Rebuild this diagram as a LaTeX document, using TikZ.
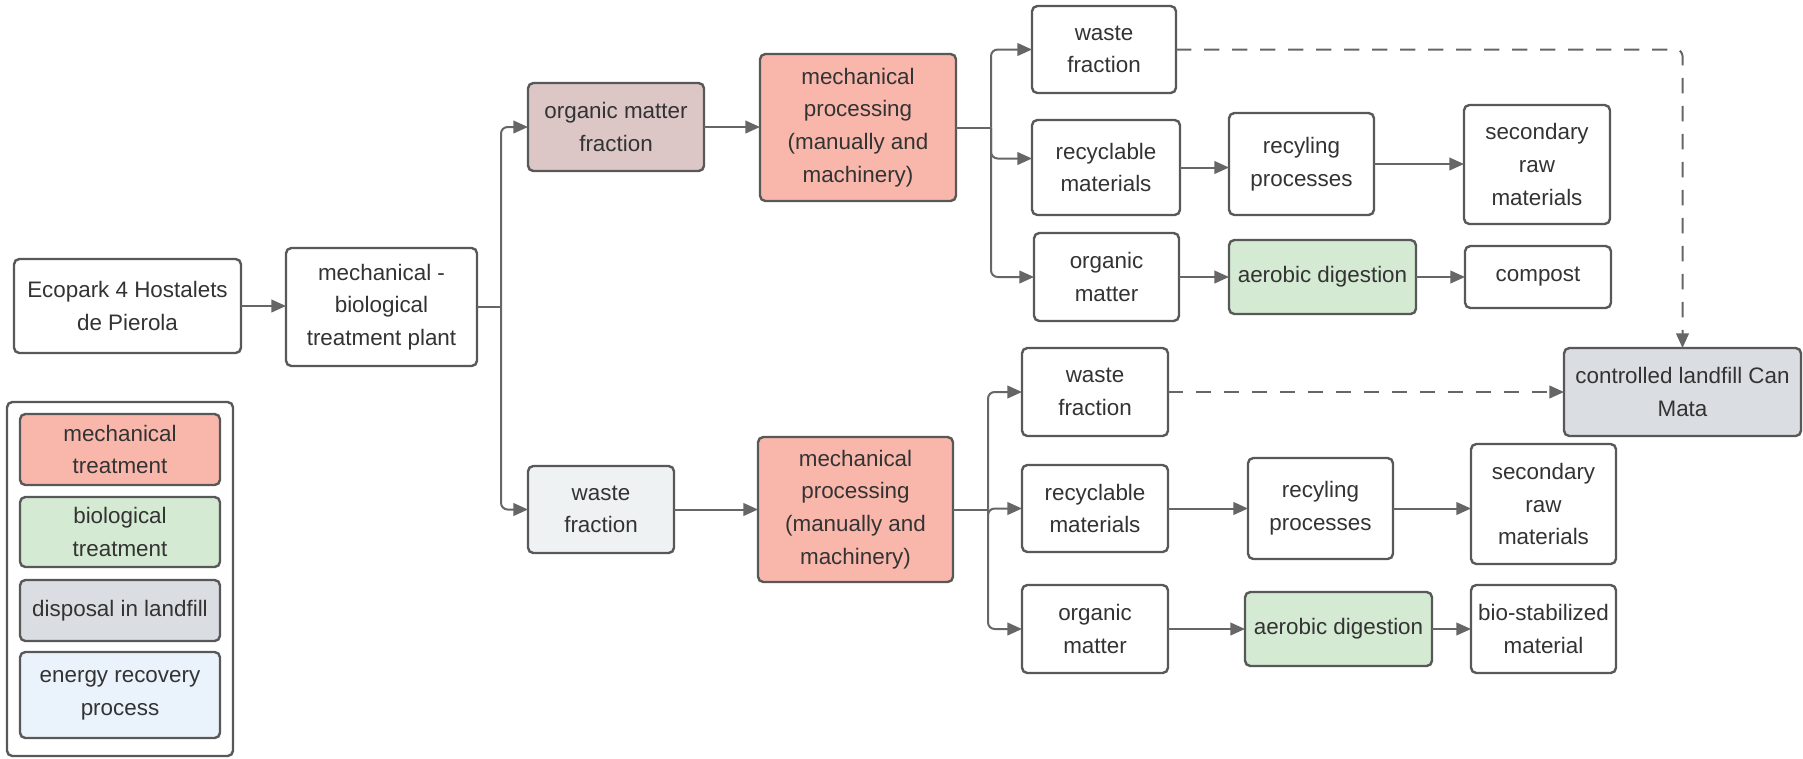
\documentclass[tikz,border=0pt]{standalone}
\usepackage{fontspec}
\setmainfont{Liberation Sans}
\usetikzlibrary{arrows.meta,calc}

\definecolor{edge}{HTML}{585858}
\definecolor{wire}{HTML}{666666}
\definecolor{txt}{HTML}{333333}
\definecolor{mechfill}{HTML}{F9B7AC}
\definecolor{orgfill}{HTML}{DCC6C6}
\definecolor{biofill}{HTML}{D4EAD3}
\definecolor{dumpfill}{HTML}{DADDE1}
\definecolor{wastefill}{HTML}{EFF2F3}
\definecolor{energyfill}{HTML}{EAF2FC}

% box given by its corners (x1,y1)-(x2,y2) in pixel units
\newcommand\boxat[7]{\node[#6, minimum width={(#4-#2)*0.75pt}, minimum height={(#5-#3)*0.75pt}] (#1) at ({(#2+#4)/2},{(#3+#5)/2}) {#7};}

\tikzset{
  box/.style={draw=edge, line width=1.8pt, rounded corners=4pt, fill=white,
    align=center, inner sep=0pt, outer sep=0pt, text=txt,
    font=\fontsize{16.8}{24.5}\selectfont},
  mech/.style={box, fill=mechfill},
  orgbox/.style={box, fill=orgfill},
  bio/.style={box, fill=biofill},
  dump/.style={box, fill=dumpfill},
  wastebox/.style={box, fill=wastefill},
  energy/.style={box, fill=energyfill},
  wire/.style={draw=wire, line width=1.5pt},
  link/.style={wire, -{Triangle[length=11pt,width=9.5pt]}},
  dashlink/.style={link, dash pattern=on 11.5pt off 9.5pt},
}

\begin{document}
\begin{tikzpicture}[x=0.75pt,y=-0.75pt]
\useasboundingbox (0,0) rectangle (1803,758);

% source and plant
\boxat{eco}{14}{259}{241}{353}{box}{Ecopark 4 Hostalets\\de Pierola}
\boxat{mbt}{286}{248}{477}{366}{box}{mechanical -\\biological\\treatment plant}

% legend
\boxat{legend}{7}{402}{233}{756}{box}{}
\boxat{lgmech}{20}{414}{220}{485}{mech}{mechanical\\treatment}
\boxat{lgbio}{20}{497}{220}{567}{bio}{biological\\treatment}
\boxat{lgdump}{20}{580}{220}{641}{dump}{disposal in landfill}
\boxat{lgenergy}{20}{652}{220}{738}{energy}{energy recovery\\process}

% organic matter line
\boxat{orgfrac}{528}{83}{704}{171}{orgbox}{organic matter\\fraction}
\boxat{mechA}{760}{54}{956}{201}{mech}{mechanical\\processing\\(manually and\\machinery)}
\boxat{wasteA}{1032}{6}{1176}{93}{box}{waste\\fraction}
\boxat{recA}{1032}{120}{1180}{215}{box}{recyclable\\materials}
\boxat{procA}{1229}{113}{1374}{215}{box}{recyling\\processes}
\boxat{secA}{1464}{105}{1610}{224}{box}{secondary\\raw\\materials}
\boxat{orgA}{1034}{233}{1179}{321}{box}{organic\\matter}
\boxat{aerA}{1229}{240}{1416}{314}{bio}{aerobic digestion}
\boxat{compost}{1465}{246}{1611}{308}{box}{compost}

% waste line
\boxat{wfrac}{528}{466}{674}{553}{wastebox}{waste\\fraction}
\boxat{mechB}{758}{437}{953}{582}{mech}{mechanical\\processing\\(manually and\\machinery)}
\boxat{wasteB}{1022}{348}{1168}{436}{box}{waste\\fraction}
\boxat{recB}{1022}{465}{1168}{552}{box}{recyclable\\materials}
\boxat{procB}{1248}{458}{1393}{559}{box}{recyling\\processes}
\boxat{secB}{1471}{444}{1616}{564}{box}{secondary\\raw\\materials}
\boxat{orgB}{1022}{585}{1168}{673}{box}{organic\\matter}
\boxat{aerB}{1245}{592}{1432}{666}{bio}{aerobic digestion}
\boxat{biostab}{1471}{585}{1616}{673}{box}{bio-stabilized\\material}

% landfill
\boxat{landfill}{1564}{348}{1801}{436}{dump}{controlled landfill Can\\Mata}

% connectors: plant split
\draw[link] (eco.east) -- (eco.east -| mbt.west);
\draw[wire] (mbt.east) -- ++(24,0) coordinate (j0);
\draw[link, rounded corners=5pt] (j0) |- (orgfrac.west);
\draw[link, rounded corners=5pt] (j0) |- (wfrac.west);
\draw[link] (orgfrac.east) -- (orgfrac.east -| mechA.west);
\draw[link] (wfrac.east) -- (wfrac.east -| mechB.west);

% organic matter line
\draw[wire] (mechA.east) -- ++(35,0) coordinate (j1);
\draw[link, rounded corners=5pt] (j1) |- (wasteA.west);
\draw[link, rounded corners=5pt] (j1) |- ($(recA.west)+(0,-9)$);
\draw[link, rounded corners=5pt] (j1) |- (orgA.west);
\draw[link] (recA.east) -- (recA.east -| procA.west);
\draw[link] (procA.east) -- (procA.east -| secA.west);
\draw[link] (orgA.east) -- (orgA.east -| aerA.west);
\draw[link] (aerA.east) -- (aerA.east -| compost.west);

% waste line
\draw[wire] (mechB.east) -- ++(35,0) coordinate (j2);
\draw[link, rounded corners=5pt] (j2) |- (wasteB.west);
\draw[link, rounded corners=5pt] (j2) |- (recB.west);
\draw[link, rounded corners=5pt] (j2) |- (orgB.west);
\draw[link] (recB.east) -- (recB.east -| procB.west);
\draw[link] (procB.east) -- (procB.east -| secB.west);
\draw[link] (orgB.east) -- (orgB.east -| aerB.west);
\draw[link] (aerB.east) -- (aerB.east -| biostab.west);

% rejects to landfill
\draw[dashlink, rounded corners=5pt] (wasteA.east) -| (landfill.north);
\draw[dashlink] (wasteB.east) -- (landfill.west);
\end{tikzpicture}
\end{document}
